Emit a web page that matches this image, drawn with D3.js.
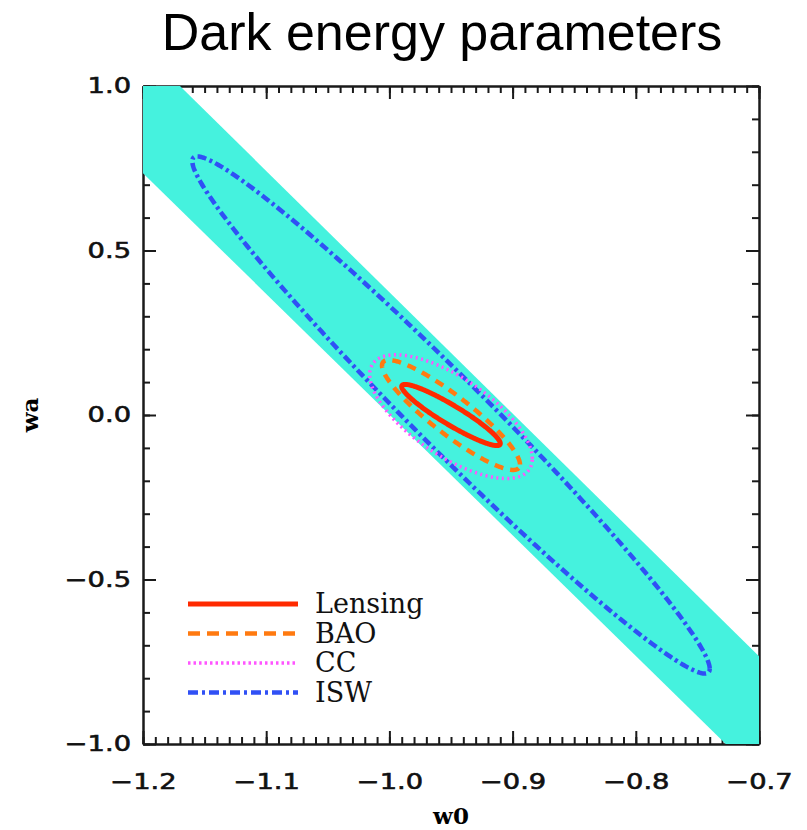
<!DOCTYPE html>
<html>
<head>
<meta charset="utf-8">
<script src="https://cdnjs.cloudflare.com/ajax/libs/d3/7.8.5/d3.min.js"></script>
<style>
  body { margin: 0; background: #fff; }
  svg { display: block; }
</style>
</head>
<body>
<div id="chart"></div>
<script>
// Probes, in legend order
var contourNames = ["Lensing", "BAO", "CC", "ISW"];

// 1-sigma ellipse of each probe: centre, marginal widths and correlation
var centreW0 = [-0.95, -0.95, -0.95, -0.95];
var centreWa = [0.0, 0.0, -0.005, 0.0];
var sigmaW0 = [0.040, 0.056, 0.066, 0.210];
var sigmaWa = [0.093, 0.167, 0.188, 0.786];
var corrW0Wa = [-0.93, -0.90, -0.68, -0.981];

// Combined (cyan) band: where its two edges meet the frame
var bandUpperW0 = [-1.17, -0.70];
var bandUpperWa = [1.0, -0.733];
var bandLowerW0 = [-1.2, -0.727];
var bandLowerWa = [0.735, -1.0];

// Axis ticks
var xTicks = [-1.2, -1.1, -1.0, -0.9, -0.8, -0.7];
var yTicks = [-1.0, -0.5, 0.0, 0.5, 1.0];

// Styles
var colors = ["#ff2a00", "#ff7a10", "#ff55ff", "#3050f5"];
var widths = [5, 4.5, 3.5, 4.5];
var plotDash = [null, "9,7", "2,3.5", "9,3.5,3,3.5"];
var legendDash = [null, "12,7", "2.5,3", "10,4,3,4"];
var bandColor = "#45f2de";

var W = 807, H = 830;
// plot frame (window.top is reserved, so use prefixed names)
var frameL = 143, frameR = 759, frameT = 86, frameB = 744;

var svg = d3.select("#chart").append("svg")
  .attr("width", W)
  .attr("height", H);

var x = d3.scaleLinear().domain([-1.2, -0.7]).range([frameL, frameR]);
var y = d3.scaleLinear().domain([-1.0, 1.0]).range([frameB, frameT]);

// Title
svg.append("text")
  .attr("x", 442)
  .attr("y", 50)
  .attr("text-anchor", "middle")
  .attr("font-family", "'Liberation Sans', Arial, sans-serif")
  .attr("font-size", 52)
  .attr("fill", "#000")
  .text("Dark energy parameters");

/*
  Axes: ticks point inwards on all four sides,
  major ones labelled on bottom and left only
*/
function fmtTick(d) {
  var s = d3.format(".1f")(Math.abs(d) < 1e-9 ? 0 : d);
  return s.replace("-", "\u2212");
}

function styleAxis(g) {
  g.select(".domain").attr("stroke", "#1a1a1a").attr("stroke-width", 2);
  g.selectAll(".tick line").attr("stroke", "#1a1a1a").attr("stroke-width", 2);
  g.selectAll("text")
    .attr("font-family", "'DejaVu Sans', sans-serif")
    .attr("font-size", 21)
    .attr("fill", "#111")
    .attr("stroke", "#111")
    .attr("stroke-width", 0.6);
}

var axes = svg.append("g");

// minor ticks
axes.append("g").attr("transform", "translate(0," + frameB + ")")
  .call(d3.axisBottom(x).ticks(50).tickSize(-7).tickSizeOuter(0).tickFormat(""))
  .call(styleAxis);
axes.append("g").attr("transform", "translate(0," + frameT + ")")
  .call(d3.axisTop(x).ticks(50).tickSize(-7).tickSizeOuter(0).tickFormat(""))
  .call(styleAxis);
axes.append("g").attr("transform", "translate(" + frameL + ",0)")
  .call(d3.axisLeft(y).ticks(20).tickSize(-7).tickSizeOuter(0).tickFormat(""))
  .call(styleAxis);
axes.append("g").attr("transform", "translate(" + frameR + ",0)")
  .call(d3.axisRight(y).ticks(20).tickSize(-7).tickSizeOuter(0).tickFormat(""))
  .call(styleAxis);

// major ticks
var xAxis = axes.append("g").attr("transform", "translate(0," + frameB + ")")
  .call(d3.axisBottom(x).tickValues(xTicks).tickSize(-13).tickSizeOuter(0)
    .tickPadding(30).tickFormat(fmtTick))
  .call(styleAxis);
xAxis.selectAll("text").attr("transform", "scale(1.3,1)");

axes.append("g").attr("transform", "translate(0," + frameT + ")")
  .call(d3.axisTop(x).tickValues(xTicks).tickSize(-13).tickSizeOuter(0).tickFormat(""))
  .call(styleAxis);

var yAxis = axes.append("g").attr("transform", "translate(" + frameL + ",0)")
  .call(d3.axisLeft(y).tickValues(yTicks).tickSize(-13).tickSizeOuter(0).tickFormat(fmtTick))
  .call(styleAxis);
yAxis.selectAll("text").attr("x", -12 / 1.3).attr("transform", "scale(1.3,1)");

axes.append("g").attr("transform", "translate(" + frameR + ",0)")
  .call(d3.axisRight(y).tickValues(yTicks).tickSize(-13).tickSizeOuter(0).tickFormat(""))
  .call(styleAxis);

// Axis titles
svg.append("text")
  .attr("x", (frameL + frameR) / 2)
  .attr("y", 824)
  .attr("text-anchor", "middle")
  .attr("font-family", "'DejaVu Serif', serif")
  .attr("font-weight", "bold")
  .attr("font-size", 23)
  .text("w0");

svg.append("text")
  .attr("transform", "translate(38," + y(0) + ") rotate(-90)")
  .attr("text-anchor", "middle")
  .attr("font-family", "'DejaVu Serif', serif")
  .attr("font-weight", "bold")
  .attr("font-size", 23)
  .text("wa");

// Plot region clip (the band covers the frame where it reaches it)
svg.append("clipPath").attr("id", "plotClip")
  .append("rect")
  .attr("x", frameL).attr("y", frameT)
  .attr("width", frameR - frameL).attr("height", frameB - frameT);

var plot = svg.append("g").attr("clip-path", "url(#plotClip)");

// Cyan band, closed through the two frame corners it covers
var xd = x.domain(), yd = y.domain();
var bandPts = [
  [xd[0], yd[1]],
  [bandUpperW0[0], bandUpperWa[0]],
  [bandUpperW0[1], bandUpperWa[1]],
  [xd[1], yd[0]],
  [bandLowerW0[1], bandLowerWa[1]],
  [bandLowerW0[0], bandLowerWa[0]]
];
plot.append("path")
  .attr("d", d3.line().x(function(d) { return x(d[0]); }).y(function(d) { return y(d[1]); })(bandPts) + "Z")
  .attr("fill", bandColor)
  .attr("stroke", "none");

/*
  Points on a 1-sigma ellipse from centre, widths and correlation
*/
function ellipsePoints(i) {
  var pts = [];
  var n = 360;
  var r = corrW0Wa[i];
  var s = Math.sqrt(1 - r * r);
  for (var k = 0; k < n; k++) {
    var t = 2 * Math.PI * k / n;
    pts.push([
      centreW0[i] + sigmaW0[i] * Math.cos(t),
      centreWa[i] + sigmaWa[i] * (r * Math.cos(t) + s * Math.sin(t))
    ]);
  }
  return pts;
}

var ellipseLine = d3.line()
  .x(function(d) { return x(d[0]); })
  .y(function(d) { return y(d[1]); })
  .curve(d3.curveLinearClosed);

// draw ISW first, Lensing last (on top)
for (var i = contourNames.length - 1; i >= 0; i--) {
  plot.append("path")
    .attr("d", ellipseLine(ellipsePoints(i)))
    .attr("fill", "none")
    .attr("stroke", colors[i])
    .attr("stroke-width", widths[i])
    .attr("stroke-dasharray", plotDash[i]);
}

// Legend
var legend = svg.append("g");
var legY0 = 604, legStep = 29.5;
contourNames.forEach(function(name, i) {
  var ly = legY0 + i * legStep;
  legend.append("line")
    .attr("x1", 188).attr("x2", 298)
    .attr("y1", ly).attr("y2", ly)
    .attr("stroke", colors[i])
    .attr("stroke-width", widths[i])
    .attr("stroke-dasharray", legendDash[i]);
  legend.append("text")
    .attr("x", 315)
    .attr("y", ly + 9)
    .attr("font-family", "'DejaVu Serif', serif")
    .attr("font-size", 27)
    .attr("fill", "#111")
    .text(name);
});
</script>
</body>
</html>
